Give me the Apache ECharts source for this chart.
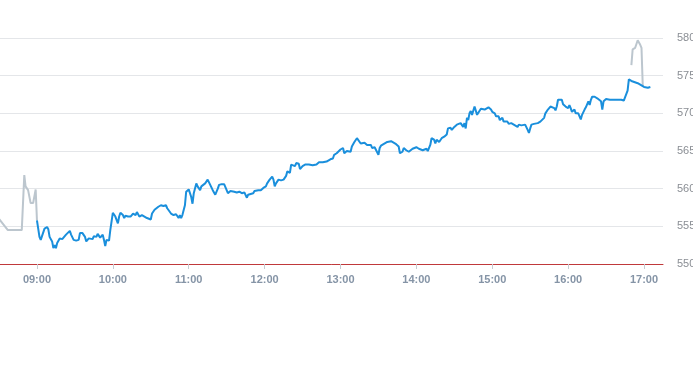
<!DOCTYPE html>
<html>
<head>
<meta charset="utf-8">
<script src="https://cdn.jsdelivr.net/npm/echarts@6/dist/echarts.min.js"></script>
<style>
  html, body { margin: 0; padding: 0; background: #ffffff; }
  #chart { width: 693px; height: 365px; }
</style>
</head>
<body>
<div id="chart"></div>
<script>
// ---- Data ----
var tickLabels = ['09:00', '10:00', '11:00', '12:00', '13:00', '14:00', '15:00', '16:00', '17:00'];
var yTicks = [550, 555, 560, 565, 570, 575, 580];

var preTimes  = ['08:29', '08:30', '08:37', '08:48', '08:50', '08:51', '08:53', '08:55', '08:57', '08:58', '08:59', '09:00'];
var preValues = [552.3, 556.0, 554.5, 554.5, 561.8, 560.3, 559.8, 558.1, 558.1, 558.3, 559.9, 555.8];

var mainTimes = [
  '09:00','09:01','09:02','09:03','09:04','09:06','09:08','09:09','09:10','09:12','09:13','09:14','09:15','09:16','09:18','09:20','09:21','09:23','09:26','09:27','09:29','09:31','09:33','09:34','09:36','09:37','09:38','09:39','09:41','09:42','09:44','09:45','09:47','09:48','09:49','09:50','09:52','09:53','09:54','09:55','09:57','09:58',
  '10:00','10:01','10:02','10:03','10:04','10:05','10:06','10:08','10:09','10:10','10:12','10:13','10:14','10:16','10:18','10:19','10:21','10:23','10:25','10:27','10:28','10:30','10:31','10:33','10:36','10:38','10:40','10:42','10:43','10:44','10:46','10:48','10:49','10:50','10:52','10:53','10:54','10:55','10:57','10:58',
  '11:00','11:02','11:03','11:04','11:06','11:07','11:09','11:10','11:13','11:14','11:15','11:17','11:18','11:19','11:21','11:23','11:24','11:26','11:28','11:29','11:31','11:33','11:34','11:36','11:38','11:40','11:42','11:44','11:46','11:47','11:49','11:51','11:52','11:53','11:55','11:57','11:59',
  '12:01','12:02','12:04','12:06','12:07','12:08','12:09','12:11','12:13','12:15','12:16','12:17','12:18','12:20','12:21','12:22','12:24','12:25','12:27','12:28','12:30','12:32','12:33','12:35','12:36','12:38','12:39','12:41','12:43','12:44','12:46','12:47','12:49','12:50','12:52','12:54','12:55','12:57','12:58',
  '13:00','13:02','13:03','13:04','13:05','13:06','13:08','13:09','13:11','13:13','13:14','13:16','13:17','13:19','13:21','13:22','13:24','13:25','13:27','13:28','13:30','13:31','13:32','13:34','13:35','13:37','13:38','13:40','13:42','13:43','13:44','13:46','13:47','13:49','13:50','13:52','13:54','13:55','13:57','13:58',
  '14:00','14:02','14:03','14:05','14:06','14:08','14:09','14:11','14:12','14:14','14:15','14:16','14:18','14:20','14:21','14:22','14:24','14:25','14:27','14:28','14:29','14:30','14:32','14:33','14:35','14:37','14:38','14:39','14:40','14:41','14:42','14:43','14:44','14:46','14:47','14:48','14:49','14:51','14:52','14:54','14:55','14:57','14:59',
  '15:00','15:02','15:03','15:04','15:05','15:06','15:08','15:09','15:10','15:12','15:13','15:15','15:17','15:18','15:20','15:21','15:23','15:24','15:26','15:28','15:29','15:30','15:31','15:33','15:34','15:36','15:38','15:39','15:41','15:42','15:44','15:46','15:47','15:49',
  '15:50','15:51','15:52','15:53','15:55','15:56','15:57','15:58','16:00','16:01','16:02','16:03','16:05','16:06','16:08','16:09','16:10','16:11','16:13','16:14','16:16','16:17','16:18','16:19','16:20','16:21','16:22','16:23','16:24','16:26','16:27','16:28','16:30','16:31','16:33','16:34','16:36','16:37','16:39','16:40','16:42','16:44','16:45','16:47','16:48','16:50','16:55','17:00','17:03','17:05'
];
var mainValues = [
  555.8,554.7,553.6,553.2,553.4,554.7,554.9,554.6,553.6,553.0,552.1,552.5,552.1,552.8,553.4,553.3,553.4,553.9,554.4,553.9,553.2,553.1,553.2,554.1,554.1,554.3,553.6,553.0,553.4,553.6,553.3,553.7,553.6,554.0,553.9,553.5,553.9,553.2,552.4,553.2,553.1,554.5,
  556.8,556.6,556.3,556.5,555.4,556.3,556.8,556.5,556.1,556.4,556.3,556.5,556.3,556.7,556.5,556.9,556.3,556.5,556.3,556.1,556.2,555.9,556.7,557.2,557.6,557.8,557.7,557.8,557.4,557.6,556.7,556.5,556.3,556.6,556.1,556.5,556.1,556.5,557.8,559.6,
  559.9,558.9,558.0,559.4,560.7,560.3,559.8,560.3,560.7,560.9,561.2,560.5,560.3,559.8,559.2,560.0,560.5,560.6,560.6,560.5,559.4,559.7,559.6,559.6,559.5,559.6,559.4,559.5,558.8,559.2,559.3,559.4,559.7,559.6,559.8,559.8,560.1,
  560.3,560.7,561.2,561.6,561.2,560.3,560.7,561.2,561.1,561.2,561.2,561.7,562.3,562.1,563.2,563.4,563.0,563.4,563.3,562.6,563.0,563.2,563.0,563.2,563.2,563.1,563.3,563.2,563.5,563.4,563.5,563.4,563.6,563.5,563.9,564.0,564.5,564.7,564.9,
  565.2,565.4,564.7,564.9,565.0,564.9,564.9,565.6,566.2,566.7,566.5,566.0,565.8,566.1,565.8,566.0,565.8,565.4,565.5,565.3,564.5,565.4,565.7,565.9,566.0,566.2,566.2,566.3,566.1,566.1,565.9,565.6,564.7,564.9,565.4,565.1,564.9,565.0,565.3,565.4,
  565.5,565.3,565.4,565.1,565.0,565.3,565.0,565.8,566.7,566.5,566.0,566.5,566.2,566.7,566.6,566.9,567.2,568.0,568.1,567.8,567.6,568.2,568.5,568.5,568.7,568.2,568.7,568.0,569.4,569.1,570.0,570.3,569.8,570.9,571.0,569.8,570.0,570.6,570.7,570.5,570.6,570.8,570.5,
  570.2,570.0,569.6,569.8,569.6,569.1,569.4,568.9,568.7,568.9,568.6,568.7,568.5,568.6,568.2,568.5,568.4,568.6,568.5,567.8,567.4,568.0,568.5,568.6,568.7,568.7,568.9,568.9,569.4,570.0,570.5,570.9,571.0,570.7,
  570.4,570.9,571.8,572.0,571.8,571.2,571.4,570.9,570.7,571.1,570.7,570.2,570.5,570.0,570.0,569.6,569.2,569.8,570.5,570.8,571.6,571.1,571.8,572.2,572.4,572.2,572.3,572.0,572.0,571.6,570.5,571.6,571.9,572.0,571.8,571.7,571.8,571.6,571.8,571.7,571.8,571.7,571.8,573.0,574.5,574.3,574.0,573.5,573.4,573.5
];

var postTimes  = ['16:50', '16:51', '16:53', '16:55', '16:56', '16:57', '16:58', '16:59'];
var postValues = [576.4, 578.5, 578.7, 579.7, 579.9, 579.1, 578.7, 573.6];

// ---- helpers ----
function toMin(s) { var p = s.split(':'); return (+p[0]) * 60 + (+p[1]); }
function pad(n) { return (n < 10 ? '0' : '') + n; }
function fmt(m) { return pad(Math.floor(m / 60)) + ':' + pad(m % 60); }
function pairs(ts, vs) { return ts.map(function (t, i) { return [toMin(t), vs[i]]; }); }

var tickMinutes = tickLabels.map(toMin);

var chart = echarts.init(document.getElementById('chart'), null, { renderer: 'canvas' });
chart.setOption({
  animation: false,
  backgroundColor: '#ffffff',
  grid: { left: -1, right: 30, top: 38, bottom: 101, containLabel: false, outerBoundsMode: 'none' },
  xAxis: {
    type: 'value',
    min: toMin('08:30'),
    max: toMin('17:15'),
    axisLine: { show: true, onZero: false, lineStyle: { color: '#c0393b', width: 1 } },
    axisTick: { show: true, customValues: tickMinutes, length: 5, lineStyle: { color: '#c8ccd2' } },
    axisLabel: {
      customValues: tickMinutes,
      formatter: function (v) { return fmt(v); },
      color: '#8594a6', fontSize: 11, fontWeight: 'bold', margin: 10,
      fontFamily: 'Helvetica, Arial, sans-serif'
    },
    splitLine: { show: false }
  },
  yAxis: {
    type: 'value',
    position: 'right',
    min: yTicks[0],
    max: yTicks[yTicks.length - 1],
    interval: 5,
    axisLine: { show: false },
    axisTick: { show: false },
    axisLabel: { color: '#8a8e94', fontSize: 11, margin: 14, align: 'left', fontFamily: 'Helvetica, Arial, sans-serif' },
    splitLine: { show: true, lineStyle: { color: '#e4e6e9', width: 1 } }
  },
  series: [
    {
      type: 'line', data: pairs(preTimes, preValues), showSymbol: false, symbol: 'none',
      lineStyle: { color: '#bcc6ce', width: 2 }, z: 2, clip: true
    },
    {
      type: 'line', data: pairs(postTimes, postValues), showSymbol: false, symbol: 'none',
      lineStyle: { color: '#bcc6ce', width: 2 }, z: 2, clip: true
    },
    {
      type: 'line', data: pairs(mainTimes, mainValues), showSymbol: false, symbol: 'none',
      lineStyle: { color: '#1a8fdc', width: 2 }, z: 3, clip: true
    }
  ]
});
</script>
</body>
</html>
